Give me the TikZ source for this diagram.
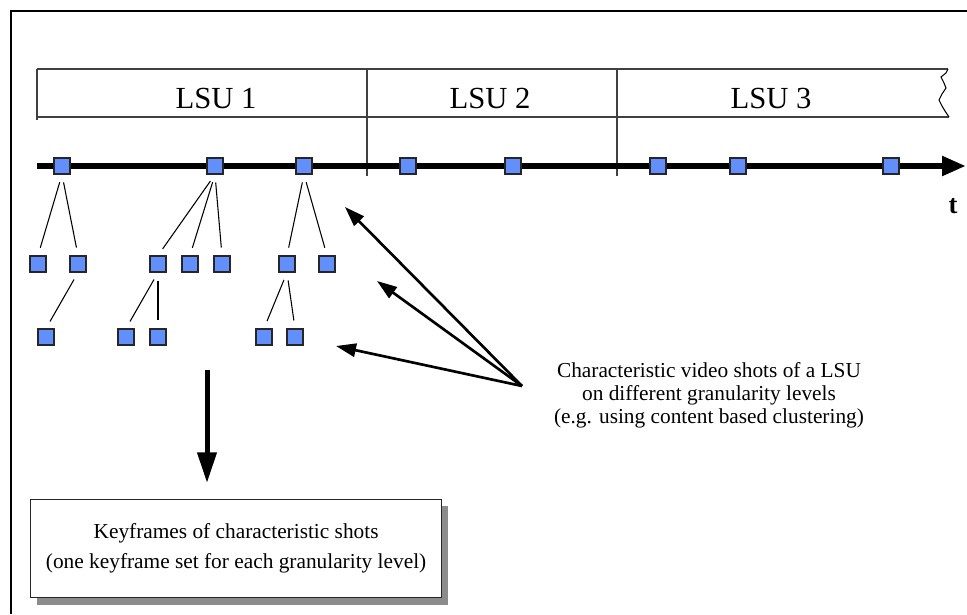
\documentclass[tikz,border=0pt]{standalone}
\usepackage{fontspec}
\setmainfont{Liberation Serif}
\usetikzlibrary{arrows.meta}
\definecolor{sqblue}{RGB}{98,143,252}
\definecolor{shadowgray}{RGB}{140,140,140}
\tikzset{
  sq/.style={draw=black!85, line width=0.8pt, fill=sqblue, minimum size=12pt, inner sep=0pt},
  branch/.style={line width=0.8pt, shorten <=6pt, shorten >=6pt},
  bandline/.style={line width=0.9pt, draw=black!75},
  pointer/.style={line width=2pt, -{Triangle[length=15pt,width=10pt]}},
  lsu/.style={font=\fontsize{23}{27}\selectfont},
  note/.style={font=\fontsize{16}{17.25}\selectfont, align=center, inner sep=0pt},
}
\begin{document}
\begin{tikzpicture}[x=0.75pt,y=-0.75pt]
\useasboundingbox (0,0) rectangle (967,614);
% frame
\draw[line width=1.5pt] (11,614) -- (11,11) -- (967,11);
% LSU band
\draw[bandline] (37,69) -- (948,69);
\draw[bandline] (37,117) -- (949,117);
\draw[bandline] (37,69) -- (37,120);
\draw[bandline] (367,69) -- (367,176);
\draw[bandline] (617,69) -- (617,176);
\draw[line width=0.8pt] (948,69) -- (946,73) -- (941,77) -- (944,83) -- (946,88) -- (942,94) -- (939,100) -- (942,106) -- (945,111) -- (949,117);
\node[lsu] (l1) at (216,98) {LSU 1};
\node[lsu] (l2) at (490,98) {LSU 2};
\node[lsu] (l3) at (771,98) {LSU 3};
% timeline
\coordinate (ts) at (37,166);
\coordinate (te) at (966,166);
\draw[line width=4.5pt, -{Triangle[length=18pt,width=14pt]}] (ts) -- (te);
\node[font=\fontsize{20}{24}\selectfont\bfseries] (t) at (953,206) {t};
% shots on timeline
\node[sq] (t1) at (62,166) {};
\node[sq] (t2) at (215,166) {};
\node[sq] (t3) at (304,166) {};
\node[sq] (t4) at (408,166) {};
\node[sq] (t5) at (513,166) {};
\node[sq] (t6) at (658,166) {};
\node[sq] (t7) at (738,166) {};
\node[sq] (t8) at (891,166) {};
% level 1
\node[sq] (a1) at (38,264) {};
\node[sq] (a2) at (78,264) {};
\node[sq] (b1) at (158,264) {};
\node[sq] (b2) at (190,264) {};
\node[sq] (b3) at (222,264) {};
\node[sq] (c1) at (287,264) {};
\node[sq] (c2) at (327,264) {};
% level 2
\node[sq] (a3) at (46,337) {};
\node[sq] (b4) at (126,337) {};
\node[sq] (b5) at (158,337) {};
\node[sq] (c3) at (264,337) {};
\node[sq] (c4) at (295,337) {};
% branches
\draw[branch] (t1.south) -- (a1.north);
\draw[branch] (t1.south) -- (a2.north);
\draw[branch] (t2.south) -- (b1.north);
\draw[branch] (t2.south) -- (b2.north);
\draw[branch] (t2.south) -- (b3.north);
\draw[branch] (t3.south) -- (c1.north);
\draw[branch] (t3.south) -- (c2.north);
\draw[branch] (a2.south) -- (a3.north);
\draw[branch] (b1.south) -- (b4.north);
\draw[branch] (b1.south) -- (b5.north);
\draw[branch] (c1.south) -- (c3.north);
\draw[branch] (c1.south) -- (c4.north);
% pointers
\coordinate (src) at (522,386);
\coordinate (p1) at (345,207);
\coordinate (p2) at (377,281);
\coordinate (p3) at (336,346);
\draw[pointer] (src) -- (p1);
\draw[pointer] (src) -- (p2);
\draw[pointer] (src) -- (p3);
\node[note] (desc) at (709,395) {Characteristic video shots of a LSU\\on different granularity levels\\(e.g. using content based clustering)};
% keyframe box
\fill[shadowgray] (37,506) rectangle (448,605);
\node[draw=black!85, line width=0.9pt, fill=white, minimum width=308.25pt, minimum height=73.5pt, anchor=north west,
      font=\fontsize{16}{22.5}\selectfont, align=center, inner sep=0pt] (box) at (30,499)
      {Keyframes of characteristic shots\\(one keyframe set for each granularity level)};
\coordinate (ds) at (207,370);
\draw[line width=3.75pt, shorten >=12pt, -{Triangle[length=23pt,width=14pt]}] (ds) -- (ds |- box.north);
\end{tikzpicture}
\end{document}
